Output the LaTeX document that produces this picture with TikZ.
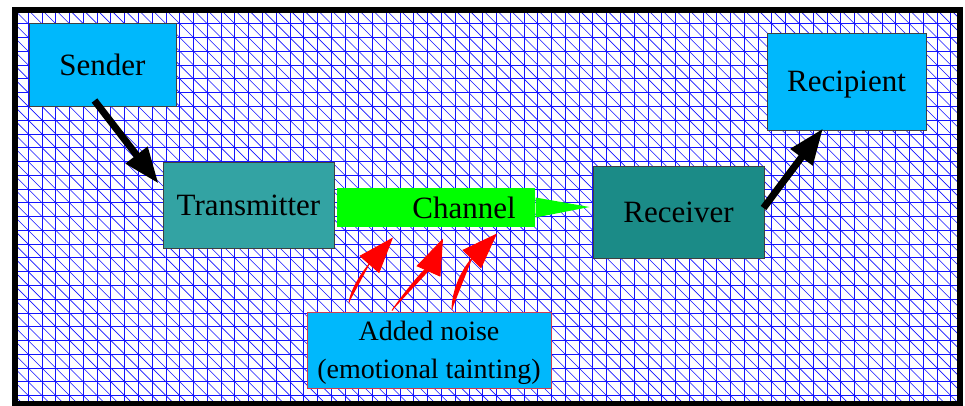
\documentclass[tikz,border=0pt]{standalone}
\usepackage{fontspec}
\setmainfont{Liberation Serif}
\usetikzlibrary{arrows.meta}
\definecolor{boxblue}{RGB}{0,184,252}
\definecolor{transteal}{RGB}{51,163,163}
\definecolor{recvteal}{RGB}{27,139,135}
\definecolor{changreen}{RGB}{0,255,0}
\definecolor{noisered}{RGB}{205,60,80}
\definecolor{gridblue}{RGB}{20,20,255}

\begin{document}
\begin{tikzpicture}[x=1pt,y=-1pt,
  box/.style={draw=black!75,line width=1pt,inner sep=2pt,text depth=0pt,
    font=\fontsize{31}{37}\selectfont},
  gridline/.style={draw=gridblue,line width=0.8pt},
  bigarrow/.style={line width=7pt,-{Triangle[length=36pt,width=26pt]}},
  noisearrow/.style={draw=red,fill=red,line width=1pt,-{Triangle[length=36pt,width=26pt]}}]
\useasboundingbox (0,0) rectangle (965,405);
\fill[white] (0,0) rectangle (965,405);
\begin{scope}
\clip (15,9.5) rectangle (960,404);
\foreach \k in {0,...,69} \draw[gridline] ({14.5+13.77*\k},0) -- ++(0,410);
\foreach \k in {0,...,29} \draw[gridline] (0,{10+13.77*\k}) -- ++(970,0);
\foreach \k in {-30,...,69} \draw[gridline,line width=0.6pt] ({14.5+13.77*\k},10) -- ++(400,400);
\end{scope}
\draw[line width=6pt] (15,9.5) rectangle (960,404);

\node[box,fill=boxblue,minimum width=147pt,minimum height=83pt] (sender) at (102.5,64.5) {Sender};
\node[box,fill=boxblue,minimum width=159pt,minimum height=97pt] (recipient) at (846.5,81.5) {Recipient};
\node[box,fill=transteal,minimum width=171pt,minimum height=86pt] (trans) at (248.5,205) {Transmitter};
\node[box,fill=recvteal,minimum width=171pt,minimum height=92pt] (recv) at (678.5,212) {Receiver};
\node[box,draw=none,fill=changreen,inner sep=0pt,minimum width=198pt,minimum height=39pt] (channel) at (436,207.5) {\hspace*{56pt}Channel};
\coordinate (chantip) at ([xshift=-3pt,yshift=5pt]recv.west);
\fill[changreen] ([yshift=10pt]channel.east) -- (chantip) -- ([yshift=-10pt]channel.east) -- cycle;
\node[box,draw=noisered,fill=boxblue,align=center,minimum width=244pt,minimum height=76pt,
  font=\fontsize{28}{38}\selectfont] (noise) at (429,350) {Added noise\\(emotional tainting)};

\draw[bigarrow] ([xshift=-8pt,yshift=6pt]sender.south) -- ([xshift=-4pt,yshift=-22pt]trans.north west);
\draw[bigarrow] ([xshift=-1pt,yshift=4pt]recv.east) -- ([xshift=-23.5pt,yshift=2pt]recipient.south);

\draw[noisearrow] ([xshift=-80pt,yshift=9pt]noise.north) .. controls +(4,-25) and +(-9.2,10.5) .. ([xshift=-43pt,yshift=-10pt]channel.south);
\draw[noisearrow] ([xshift=-37pt,yshift=1pt]noise.north) .. controls +(10,-15) and +(-5.8,13.1) .. ([xshift=7pt,yshift=-11pt]channel.south);
\draw[noisearrow] ([xshift=23pt,yshift=2pt]noise.north) .. controls +(1,-40) and +(-10.7,10.9) .. ([xshift=61pt,yshift=-6pt]channel.south);
\end{tikzpicture}
\end{document}
